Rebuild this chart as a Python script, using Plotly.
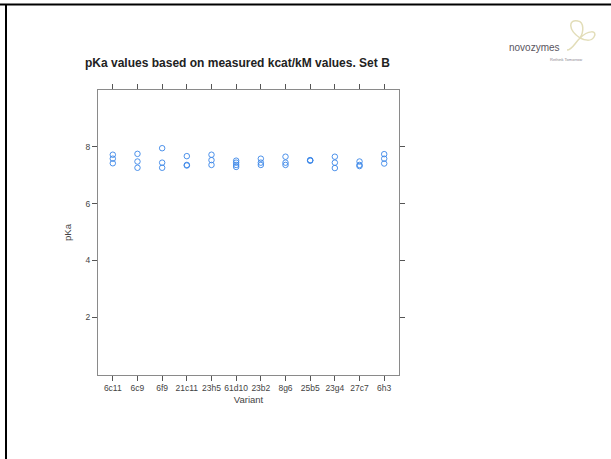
import plotly.graph_objects as go

variants = ["6c11", "6c9", "6f9", "21c11", "23h5", "61d10", "23b2", "8g6", "25b5", "23g4", "27c7", "6h3"]
pka_values = [
    [7.72, 7.58, 7.42],
    [7.75, 7.48, 7.26],
    [7.95, 7.44, 7.26],
    [7.67, 7.36, 7.34],
    [7.72, 7.53, 7.36],
    [7.51, 7.44, 7.36, 7.29],
    [7.58, 7.44, 7.36],
    [7.65, 7.44, 7.36],
    [7.53, 7.52, 7.51],
    [7.65, 7.44, 7.25],
    [7.48, 7.36, 7.32],
    [7.74, 7.58, 7.41],
]
y_ticks = [2, 4, 6, 8]

W, H = 611, 459
L, R, T, B = 98, 399, 90, 375

def px(x):
    return (x - L) / (R - L)

def py(y):
    return (B - y) / (B - T)

xs, ys = [], []
for i, vals in enumerate(pka_values):
    for v in vals:
        xs.append(i)
        ys.append(v)

fig = go.Figure()
fig.add_trace(go.Scatter(
    x=xs, y=ys, mode="markers",
    marker=dict(symbol="circle-open", size=5.5, color="#3a86e8", line=dict(width=0.9, color="#3a86e8")),
    showlegend=False, hoverinfo="skip",
))

axis_common = dict(
    showgrid=False, zeroline=False, showline=True, linecolor="#8a8a8a", linewidth=1,
    mirror="ticks", ticks="outside", ticklen=5, tickcolor="#555555", tickwidth=1,
    tickfont=dict(family="Liberation Sans, Arial", size=8.5, color="#444444"),
)

fig.update_layout(
    width=W, height=H,
    margin=dict(l=L, r=W - R, t=T, b=H - B),
    paper_bgcolor="white", plot_bgcolor="white",
    xaxis=dict(
        **axis_common,
        tickmode="array", tickvals=list(range(len(variants))), ticktext=variants,
        range=[-0.6, len(variants) - 0.4],
        title=dict(text="Variant", font=dict(family="Liberation Sans, Arial", size=9.5, color="#444444"), standoff=4),
    ),
    yaxis=dict(
        **axis_common,
        tickmode="array", tickvals=y_ticks, ticktext=[str(t) for t in y_ticks],
        range=[-0.04, 10.0],
        title=dict(text="pKa", font=dict(family="Liberation Sans, Arial", size=9.5, color="#444444"), standoff=12),
    ),
    annotations=[
        dict(text="<b>pKa values based on measured kcat/kM values. Set B</b>",
             x=px(237), y=py(63), xref="paper", yref="paper", showarrow=False,
             xanchor="center", yanchor="middle",
             font=dict(family="Liberation Sans, Arial", size=12, color="#222222")),
        dict(text="novozymes", x=px(534), y=py(48), xref="paper", yref="paper", showarrow=False,
             xanchor="center", yanchor="middle",
             font=dict(family="Liberation Sans, Arial", size=10, color="#5a5560")),
        dict(text="Rethink Tomorrow", x=px(566), y=py(59), xref="paper", yref="paper", showarrow=False,
             xanchor="center", yanchor="middle",
             font=dict(family="Liberation Sans, Arial", size=4, color="#8a8590")),
    ],
    shapes=[
        dict(type="line", xref="paper", yref="paper", x0=px(0), x1=px(611), y0=py(4.5), y1=py(4.5),
             line=dict(color="black", width=2)),
        dict(type="line", xref="paper", yref="paper", x0=px(6), x1=px(6), y0=py(4), y1=py(459),
             line=dict(color="black", width=2)),
        # logo flower
        dict(type="path", xref="paper", yref="paper",
             path=f"M {px(580)},{py(38)} C {px(568)},{py(30)} {px(568)},{py(19)} {px(578)},{py(21)} "
                  f"C {px(584)},{py(22)} {px(584)},{py(32)} {px(580)},{py(38)} "
                  f"C {px(588)},{py(30)} {px(598)},{py(30)} {px(594)},{py(37)} "
                  f"C {px(591)},{py(42)} {px(584)},{py(40)} {px(580)},{py(38)} "
                  f"C {px(574)},{py(44)} {px(572)},{py(50)} {px(567)},{py(50)}",
             line=dict(color="#e2ddb8", width=1.5)),
    ],
)

fig.write_html("out.html")
